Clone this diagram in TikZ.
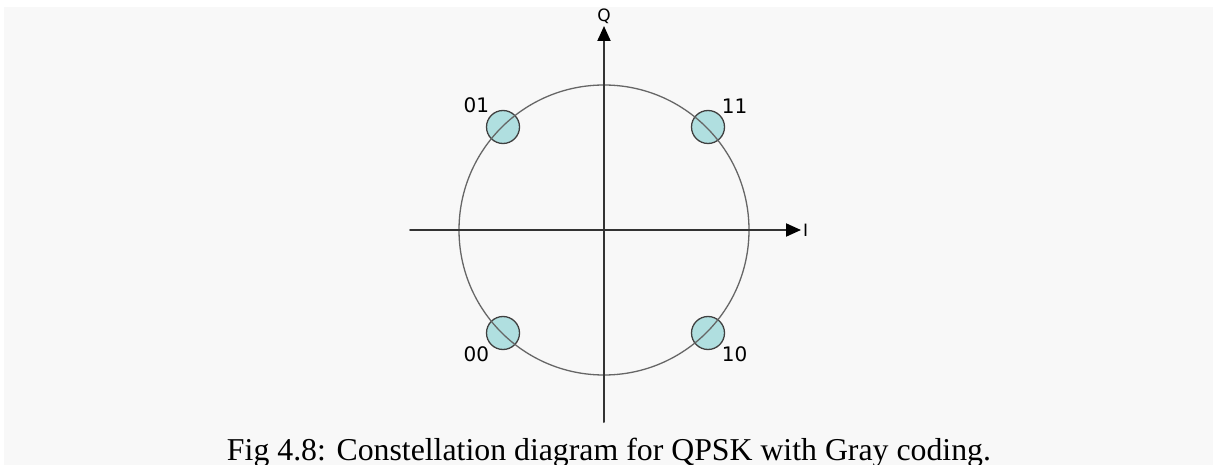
\documentclass[tikz,border=0pt]{standalone}
\usepackage{fontspec}
\setmainfont{Liberation Serif}
\newfontfamily\bitfont{DejaVu Sans}
\usetikzlibrary{arrows.meta}
\definecolor{panelgray}{HTML}{F8F8F8}
\definecolor{symfill}{HTML}{B0DFE0}
\definecolor{axisgray}{HTML}{333333}

\begin{document}
\begin{tikzpicture}[x=1pt, y=-1pt, line cap=round, line join=round,
    axis/.style={line width=2pt, draw=axisgray, -{Triangle[length=15pt,width=13pt,color=black]}},
    ring/.style={line width=1.3pt, draw=black!60},
    symbol/.style={circle, draw=black!75, line width=1.3pt, fill=symfill, minimum size=33pt, inner sep=0pt},
    bits/.style={font=\bitfont\fontsize{20}{20}\selectfont, text=black, inner sep=1.5pt},
    axlabel/.style={font=\bitfont\fontsize{17}{17}\selectfont, text=black, inner sep=2pt}]
  \useasboundingbox (0,0) rectangle (1213,465);
  \fill[panelgray] (4,7) rectangle (1213,465);
  % Constellation points.
  \coordinate (o) at (604,230);
  \node[symbol] (d01) at (503,127) {};
  \node[symbol] (d11) at (708,127) {};
  \node[symbol] (d00) at (503,333) {};
  \node[symbol] (d10) at (708,333) {};
  \node[bits, anchor=south east] (l01) at (d01.north west) {01};
  \node[bits, anchor=south west] (l11) at (d11.north east) {11};
  \node[bits, anchor=north east] (l00) at (d00.south west) {00};
  \node[bits, anchor=north west] (l10) at (d10.south east) {10};
  % Unit circle, drawn over the points.
  \draw[ring] (o) circle[radius=145];
  % Axes.
  \coordinate (iw) at (410,230);
  \coordinate (qs) at (604,422);
  \node[axlabel, anchor=west] (ilab) at (801,230) {I};
  \node[axlabel, anchor=south] (qlab) at (604,26) {Q};
  \draw[axis] (iw) -- (ilab.west);
  \draw[axis] (qs) -- (qlab.south);
  % Caption.
  \node[anchor=base, font=\fontsize{31.8}{32}\selectfont, inner sep=0pt] (cap) at (609,460)
    {Fig 4.8: Constellation diagram for QPSK with Gray coding.};
\end{tikzpicture}
\end{document}
